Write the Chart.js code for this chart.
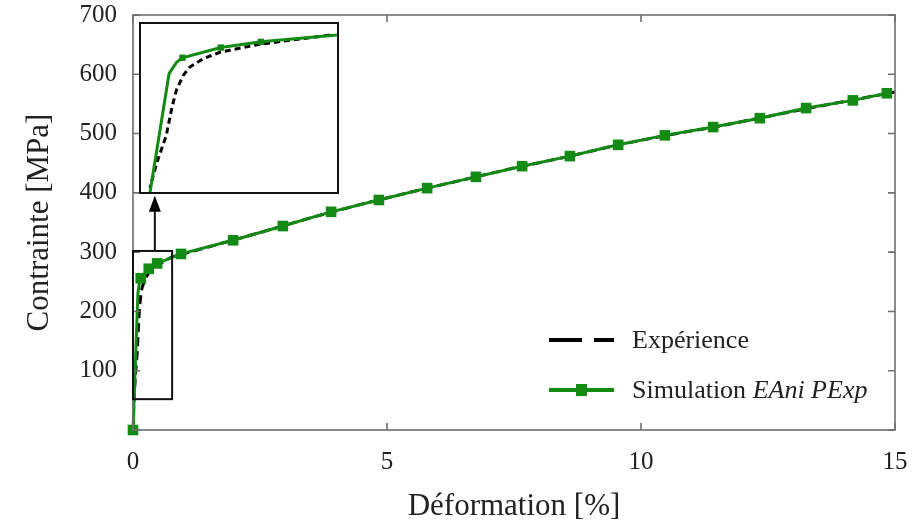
<!DOCTYPE html>
<html>
<head>
<meta charset="utf-8">
<script src="https://cdn.jsdelivr.net/npm/chart.js@4.4.1/dist/chart.umd.min.js"></script>
<style>
  html, body { margin: 0; padding: 0; background: #fff; }
  #wrap { position: relative; width: 924px; height: 528px; }
  #main { position: absolute; left: 0; top: 0; }
  #insetBox { position: absolute; left: 139px; top: 22px; width: 200px; height: 172px;
              box-sizing: border-box; border: 2px solid #111; background: #fff; }
  #inset { display: block; }
  .leg { position: absolute; font-family: 'Liberation Serif', serif; font-size: 26px; color: #222;
         line-height: 30px; white-space: nowrap; }
  .leg svg { position: absolute; left: -84px; top: 0; }
</style>
</head>
<body>
<div id="wrap">
  <canvas id="main" width="924" height="528"></canvas>
  <div id="insetBox"><canvas id="inset" width="196" height="168"></canvas></div>
  <div class="leg" style="left:632px;top:325px;">
    <svg width="70" height="30"><line x1="1" y1="15" x2="66" y2="15" stroke="#000" stroke-width="4" stroke-dasharray="33,12"></line></svg>
    Expérience
  </div>
  <div class="leg" style="left:632px;top:375px;">
    <svg width="70" height="30"><line x1="1" y1="15" x2="66" y2="15" stroke="#138a13" stroke-width="4"></line><rect x="28" y="9" width="11" height="12" fill="#138a13"></rect></svg>
    Simulation <i>EAni PExp</i>
  </div>
</div>
<script>
// Simulation EAni PExp (green, square markers)
const simX = [0, 0.097, 0.128, 0.152, 0.31, 0.475, 0.945, 1.97, 2.95, 3.90, 4.84, 5.79, 6.75, 7.66, 8.60, 9.55, 10.47, 11.42, 12.34, 13.25, 14.17, 14.84];
const simY = [0, 231, 249, 256, 272, 281, 297, 320, 344, 368, 388, 408, 427, 445, 462, 481, 497, 511, 526, 543, 556, 568];
const simMarker = [1, 0, 0, 1, 1, 1, 1, 1, 1, 1, 1, 1, 1, 1, 1, 1, 1, 1, 1, 1, 1, 1];

// Expérience (black dashed)
const expX = [0, 0.02, 0.05, 0.085, 0.11, 0.128, 0.155, 0.181, 0.24, 0.31, 0.467, 0.765, 1.5, 2.5, 3.5, 4.5, 5.5, 6.5, 7.5, 8.5, 9.5, 10.5, 11.5, 12.5, 13.5, 14.5, 15];
const expY = [0, 55, 95, 133, 180, 206, 228, 241, 255, 265, 277, 292, 309, 333, 358, 381, 402, 422, 442, 460, 480, 497, 512, 529, 546, 562, 570];

// zoom box shown in the main plot (data units)
const boxX = [0, 0.77];
const boxY = [52, 302];
const arrowX = 0.43;
const arrowTopY = 400;

const GREEN = '#138a13';
const FONT = "'Liberation Serif', 'DejaVu Serif', serif";

const toPts = (xs, ys) => xs.map((x, i) => ({ x: x, y: ys[i] }));

function datasets(markerR, lw, dash) {
    return [
        {
            label: 'Simulation EAni PExp',
            data: toPts(simX, simY),
            borderColor: GREEN,
            backgroundColor: GREEN,
            borderWidth: lw,
            pointStyle: 'rect',
            pointRadius: ctx => simMarker[ctx.dataIndex] ? markerR : 0,
            pointBorderWidth: 0,
            tension: 0,
            clip: 10
        },
        {
            label: 'Expérience',
            data: toPts(expX, expY),
            borderColor: '#000',
            borderWidth: lw,
            borderDash: dash,
            pointRadius: 0,
            tension: 0
        }
    ];
}

// frame, inward ticks, zoom box and arrow
const framePlugin = {
    id: 'frame',
    afterDraw(chart) {
        const { ctx, chartArea: a, scales: { x, y } } = chart;
        ctx.save();
        ctx.strokeStyle = '#6e6e6e';
        ctx.lineWidth = 1.6;
        ctx.strokeRect(a.left, a.top, a.right - a.left, a.bottom - a.top);
        ctx.beginPath();
        y.ticks.forEach(t => {
            const py = y.getPixelForValue(t.value);
            ctx.moveTo(a.left, py); ctx.lineTo(a.left + 7, py);
            ctx.moveTo(a.right, py); ctx.lineTo(a.right - 7, py);
        });
        x.ticks.forEach(t => {
            const px = x.getPixelForValue(t.value);
            ctx.moveTo(px, a.bottom); ctx.lineTo(px, a.bottom - 7);
            ctx.moveTo(px, a.top); ctx.lineTo(px, a.top + 7);
        });
        ctx.stroke();

        // zoom box
        ctx.strokeStyle = '#111';
        ctx.lineWidth = 2;
        const bx0 = x.getPixelForValue(boxX[0]), bx1 = x.getPixelForValue(boxX[1]);
        const by0 = y.getPixelForValue(boxY[0]), by1 = y.getPixelForValue(boxY[1]);
        ctx.strokeRect(bx0, by1, bx1 - bx0, by0 - by1);

        // arrow up to the inset
        const ax = x.getPixelForValue(arrowX);
        const ay0 = by1, ay1 = y.getPixelForValue(arrowTopY);
        ctx.beginPath();
        ctx.moveTo(ax, ay0); ctx.lineTo(ax, ay1 + 14);
        ctx.stroke();
        ctx.fillStyle = '#000';
        ctx.beginPath();
        ctx.moveTo(ax, ay1 + 3);
        ctx.lineTo(ax - 6, ay1 + 19);
        ctx.lineTo(ax + 6, ay1 + 19);
        ctx.closePath();
        ctx.fill();
        ctx.restore();
    }
};

new Chart(document.getElementById('main'), {
    type: 'line',
    data: { datasets: datasets(7.5, 3, [9, 5]) },
    options: {
        responsive: false,
        animation: false,
        events: [],
        layout: { padding: { left: 0, right: 29, top: 15, bottom: 0 } },
        plugins: { legend: { display: false }, tooltip: { enabled: false } },
        scales: {
            x: {
                type: 'linear', min: 0, max: 15,
                grid: { display: false, drawTicks: false },
                border: { display: false },
                ticks: { stepSize: 5, padding: 17, color: '#222', font: { family: FONT, size: 25 } },
                title: { display: true, text: 'Déformation [%]', color: '#222',
                         font: { family: FONT, size: 31 }, padding: { top: 3, bottom: 3 } },
                afterFit: s => { s.height = 98; s.paddingLeft = 0; s.paddingRight = 0; }
            },
            y: {
                type: 'linear', min: 0, max: 700,
                grid: { display: false, drawTicks: false },
                border: { display: false },
                ticks: { stepSize: 100, padding: 16, color: '#222', font: { family: FONT, size: 25 },
                         callback: v => v === 0 ? '' : v },
                title: { display: true, text: 'Contrainte [MPa]', color: '#222',
                         font: { family: FONT, size: 31 }, padding: { top: 21, bottom: 21 } },
                afterFit: s => { s.width = 133; s.paddingTop = 0; s.paddingBottom = 0; }
            }
        }
    },
    plugins: [framePlugin]
});

new Chart(document.getElementById('inset'), {
    type: 'line',
    data: { datasets: datasets(4.5, 3, [6, 4]) },
    options: {
        responsive: false,
        animation: false,
        events: [],
        layout: { padding: 0 },
        plugins: { legend: { display: false }, tooltip: { enabled: false } },
        scales: {
            x: { type: 'linear', min: boxX[0], max: boxX[1], display: false },
            y: { type: 'linear', min: boxY[0], max: boxY[1], display: false }
        }
    }
});
</script>
</body>
</html>
